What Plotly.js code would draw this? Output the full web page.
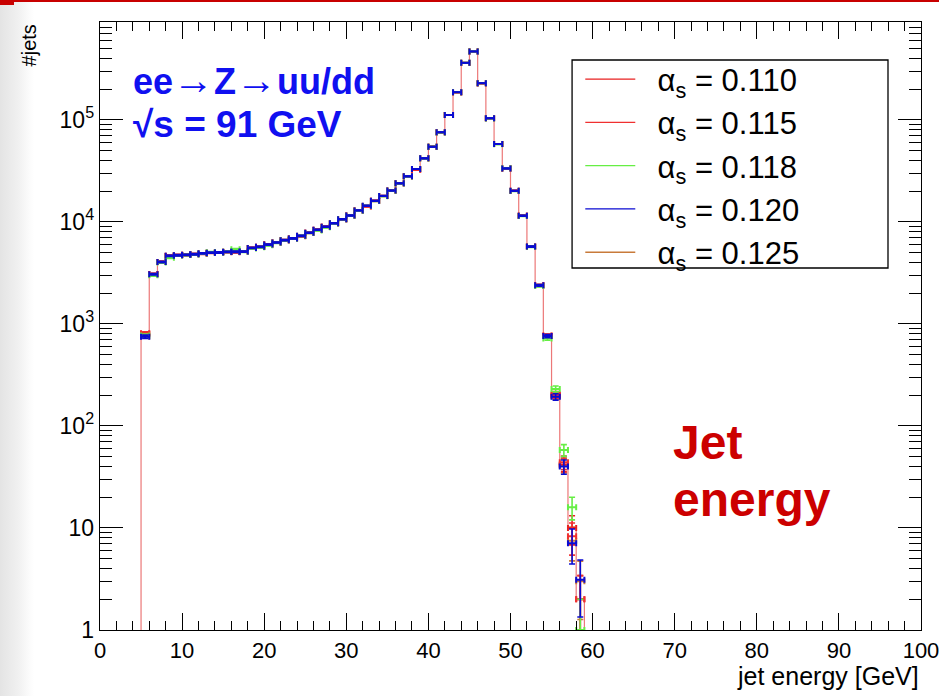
<!DOCTYPE html>
<html>
<head>
<meta charset="utf-8">
<script src="https://cdn.plot.ly/plotly-3.0.1.min.js"></script>
<style>
  html, body { margin: 0; padding: 0; }
  body { width: 939px; height: 696px; overflow: hidden;
         background: linear-gradient(to right, #e4e4e4 0px, #f0f0f0 18px, #fafafa 28px, #ffffff 34px); position: relative; }
  #topline { position: absolute; left: 0; top: 0; width: 939px; height: 2px; background: #c80000; z-index: 5; }
  #corner { position: absolute; left: 0; top: 0; width: 14px; height: 5px; background: #c80000; z-index: 5; }
  #chart { position: absolute; left: 0; top: 0; width: 939px; height: 696px; }
</style>
</head>
<body>
<div id="chart"></div>
<div id="topline"></div>
<div id="corner"></div>
<script>
// Bin centres (1 GeV bins, jet energy in GeV)
const binCenters = [5.5,6.5,7.5,8.5,9.5,10.5,11.5,12.5,13.5,14.5,15.5,16.5,17.5,18.5,19.5,20.5,21.5,22.5,23.5,24.5,25.5,26.5,27.5,28.5,29.5,30.5,31.5,32.5,33.5,34.5,35.5,36.5,37.5,38.5,39.5,40.5,41.5,42.5,43.5,44.5,45.5,46.5,47.5,48.5,49.5,50.5,51.5,52.5,53.5,54.5,55.5,56.5,57.5,58.5];
const binWidth = 1.0;

// Number of jets per bin for each alpha_s value
const as110 = [800,3080,4060,4640,4720,4760,4830,4880,4980,5020,5090,5060,5120,5560,5700,6010,6290,6630,6890,7250,7830,8370,8960,9730,10650,11580,12980,14200,16100,18000,20300,23900,28000,32500,42000,54700,75700,112000,187000,363000,469000,229000,104000,58100,33500,20200,11500,5740,2390,770,203,42,10,2];
const as115 = [810,3070,4050,4650,4730,4750,4840,4900,5000,5010,5080,5080,5110,5550,5690,6000,6300,6620,6880,7270,7820,8350,8950,9720,10600,11550,12950,14250,16050,17950,20250,23850,27900,32600,41900,54500,75500,111500,186000,362000,468000,228000,104000,58000,33400,20150,11480,5720,2380,765,200,44,8.3,2];
const as118 = [770,3000,4000,4450,4700,4740,4800,4910,5050,5000,5100,5400,5100,5500,5650,5900,6250,6600,6850,7300,7800,8250,8850,9650,10600,11500,12900,14350,16000,17900,20200,23800,27900,33000,41800,54500,75500,112000,187000,363000,469000,229000,103500,57800,33600,20100,11450,5700,2350,720,231,58,16,1];
const as120 = [750,3070,4060,4650,4720,4760,4830,4920,5000,5020,5090,5100,5120,5560,5700,6010,6290,6630,6890,7310,7830,8370,8960,9730,10650,11580,12980,14400,16100,18000,20300,23900,28000,33000,42000,54700,75700,112000,187000,363000,469000,229000,104000,58100,33500,20200,11500,5740,2390,760,193,40,7.1,3.1];
const as125 = [755,3065,4055,4650,4720,4760,4830,4920,5000,5020,5090,5100,5120,5560,5700,6010,6290,6630,6890,7310,7830,8370,8960,9730,10650,11580,12980,14400,16100,18000,20300,23900,28000,33000,42000,54700,75700,112000,187000,363000,469000,229000,104000,58100,33500,20200,11500,5740,2390,760,195,41,7.5,3];

const seriesNames = ['\u00a0\u00a0α<sub>s</sub> = 0.110','\u00a0\u00a0α<sub>s</sub> = 0.115','\u00a0\u00a0α<sub>s</sub> = 0.118','\u00a0\u00a0α<sub>s</sub> = 0.120','\u00a0\u00a0α<sub>s</sub> = 0.125'];
const seriesColors = ['#e82020','#f03030','#66ee44','#0a0ad2','#c87a3a'];

const xTickVals = [0,10,20,30,40,50,60,70,80,90,100];
const yTickVals = [1,10,100,1000,10000,100000];
const yTickText = ['1','10','10<sup>2</sup>','10<sup>3</sup>','10<sup>4</sup>','10<sup>5</sup>'];

// ---- build step outline for the first histogram (drawn as HIST) ----
const floorVal = 0.3; // below the visible log range so the outline drops off the axis
const stepX = [binCenters[0] - binWidth/2];
const stepY = [floorVal];
binCenters.forEach((c, i) => { stepX.push(c - binWidth/2); stepY.push(as110[i]); });
stepX.push(binCenters[binCenters.length-1] + binWidth/2);
stepY.push(floorVal);

function errTrace(vals, color) {
  return {
    x: binCenters, y: vals, type: 'scatter', mode: 'markers',
    marker: {size: 1, color: color},
    showlegend: false, cliponaxis: true, hoverinfo: 'skip',
    error_x: {type: 'constant', value: binWidth/2, color: color, thickness: 2, width: 3},
    error_y: {type: 'data', array: vals.map(v => Math.sqrt(v)), color: color, thickness: 1.6, width: 3}
  };
}

const traces = [
  {x: stepX, y: stepY, type: 'scatter', mode: 'lines', line: {shape: 'hv', color: 'rgb(236,120,120)', width: 1.2},
   showlegend: false, hoverinfo: 'skip'},
  errTrace(as125, seriesColors[4]),
  errTrace(as110, seriesColors[0]),
  errTrace(as115, seriesColors[1]),
  errTrace(as118, seriesColors[2]),
  errTrace(as120, seriesColors[3])
];
// legend entries (line samples)
seriesNames.forEach((n, i) => {
  traces.push({x: [null], y: [null], type: 'scatter', mode: 'lines', name: n,
    line: {color: seriesColors[i], width: 1.3}, legendgroup: 'g' + i, showlegend: true});
});

const minorY = [];
for (let d = 0; d < 6; d++) for (let k = 2; k <= 9; k++) minorY.push(k * Math.pow(10, d));

const font = 'Liberation Sans, Arial, Helvetica, sans-serif';
const arrow = '<span style="font-family:Liberation Sans;font-size:41px">→</span>';

const layout = {
  width: 939, height: 696,
  margin: {l: 100, r: 18, t: 22, b: 66},
  paper_bgcolor: 'rgba(0,0,0,0)', plot_bgcolor: '#ffffff',
  font: {family: font, color: '#000'},
  xaxis: {
    range: [0, 100], tickmode: 'array', tickvals: xTickVals,
    ticks: 'inside', ticklen: 17, tickwidth: 1, tickcolor: '#000',
    showline: true, linecolor: '#000', linewidth: 1.3, mirror: 'ticks',
    showgrid: false, zeroline: false, ticklabeloverflow: 'allow',
    tickfont: {size: 22, family: font},
    minor: {dtick: 2, ticks: 'inside', ticklen: 9, tickwidth: 1, tickcolor: '#000', showgrid: false}
  },
  yaxis: {
    type: 'log', range: [0, 5.96], tickmode: 'array', tickvals: yTickVals, ticktext: yTickText,
    ticks: 'inside', ticklen: 23, tickwidth: 1, tickcolor: '#000',
    showline: true, linecolor: '#000', linewidth: 1.3, mirror: 'ticks',
    showgrid: false, zeroline: false, ticklabeloverflow: 'allow',
    tickfont: {size: 23, family: font},
    minor: {tickmode: 'array', tickvals: minorY, ticks: 'inside', ticklen: 12, tickwidth: 1, tickcolor: '#000', showgrid: false}
  },
  showlegend: true,
  legend: {
    x: 0.585, y: 0.95, xanchor: 'left', yanchor: 'top',
    bgcolor: 'rgba(0,0,0,0)', borderwidth: 0,
    font: {size: 31, family: font, color: '#000'},
    itemwidth: 50, tracegroupgap: 0, traceorder: 'grouped'
  },
  shapes: [
    {type: 'rect', xref: 'paper', yref: 'paper', x0: 0.575, x1: 0.9598, y0: 0.5954, y1: 0.9375,
     line: {color: '#000', width: 1.3}, fillcolor: '#ffffff', layer: 'above'}
  ],
  annotations: [
    {text: '<b>ee</b>' + arrow + '<b>Z</b>' + arrow + '<b>uu/dd</b>', xref: 'paper', yref: 'paper', x: 0.038, y: 0.905, xanchor: 'left', yanchor: 'middle',
     showarrow: false, font: {size: 36, family: font, color: '#1010f0'}},
    {text: '<b>√s = 91 GeV</b>', xref: 'paper', yref: 'paper', x: 0.038, y: 0.831, xanchor: 'left', yanchor: 'middle',
     showarrow: false, font: {size: 37, family: font, color: '#1010f0'}},
    {text: '<b>Jet</b>', xref: 'paper', yref: 'paper', x: 0.695, y: 0.308, xanchor: 'left', yanchor: 'middle',
     showarrow: false, font: {size: 48, family: font, color: '#cc0000'}},
    {text: '<b>energy</b>', xref: 'paper', yref: 'paper', x: 0.695, y: 0.214, xanchor: 'left', yanchor: 'middle',
     showarrow: false, font: {size: 48, family: font, color: '#cc0000'}},
    {text: 'jet energy [GeV]', xref: 'paper', yref: 'paper', x: 1.0, y: -0.076, xanchor: 'right', yanchor: 'middle',
     showarrow: false, font: {size: 25, family: font, color: '#000'}},
    {text: '#jets', xref: 'paper', yref: 'paper', x: -0.086, y: 1.0, xanchor: 'center', yanchor: 'top', textangle: -90,
     showarrow: false, font: {size: 20, family: font, color: '#000'}}
  ]
};

Plotly.newPlot('chart', traces, layout, {displayModeBar: false, staticPlot: true});
</script>
</body>
</html>
